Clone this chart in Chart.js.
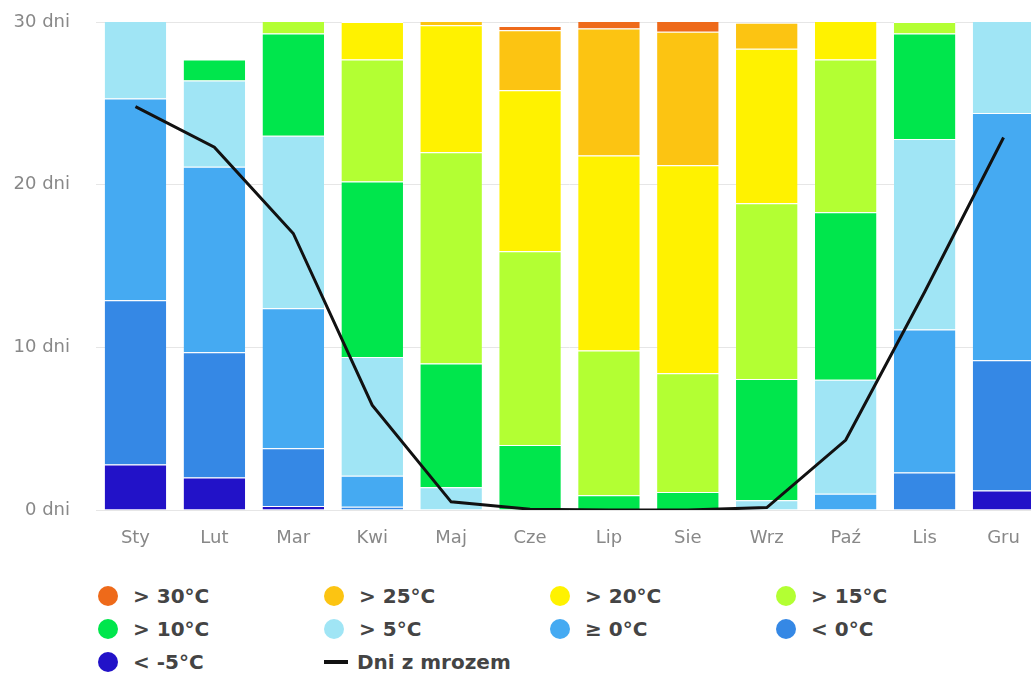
<!DOCTYPE html>
<html>
<head>
<meta charset="utf-8">
<script src="https://cdn.jsdelivr.net/npm/chart.js@4"></script>
<style>
  html, body { margin: 0; padding: 0; background: #fff; overflow: hidden; }
  #wrap { position: relative; width: 1043px; height: 560px; }
  #legend { position: absolute; left: 0; top: 582px; width: 1031px; font-family: "DejaVu Sans", sans-serif; }
  .item { position: absolute; display: flex; align-items: center; height: 28px; font-weight: bold; font-size: 20px; color: #444; white-space: nowrap; }
  .dot { width: 20px; height: 20px; border-radius: 50%; margin-right: 15px; }
  .dash { width: 24px; height: 4px; background: #111; margin-right: 9px; }
</style>
</head>
<body>
<div id="wrap"><canvas id="climateChart"></canvas></div>
<div id="legend"></div>
<script>
// data (days per month)
const months = ["Sty", "Lut", "Mar", "Kwi", "Maj", "Cze", "Lip", "Sie", "Wrz", "Paź", "Lis", "Gru"];
const yTicks = [0, 10, 20, 30];

const belowMinus5 = [2.8, 2.0, 0.25, 0, 0, 0, 0, 0, 0, 0, 0, 1.2];
const below0 = [10.1, 7.7, 3.55, 0.2, 0, 0, 0, 0, 0, 0, 2.3, 8.0];
const above0 = [12.4, 11.4, 8.6, 1.9, 0, 0, 0, 0, 0, 1.0, 8.8, 15.2];
const above5 = [5.7, 5.3, 10.6, 7.3, 1.4, 0, 0, 0, 0.6, 7.0, 11.7, 6.6];
const above10 = [0, 1.3, 6.3, 10.8, 7.6, 4.0, 0.9, 1.1, 7.45, 10.3, 6.5, 0];
const above15 = [0, 0, 1.7, 7.5, 13.0, 11.9, 8.9, 7.3, 10.8, 9.4, 0.7, 0];
const above20 = [0, 0, 0, 2.3, 7.8, 9.9, 12.0, 12.8, 9.5, 3.3, 0, 0];
const above25 = [0, 0, 0, 0, 1.2, 3.7, 7.8, 8.2, 1.6, 0, 0, 0];
const above30 = [0, 0, 0, 0, 0, 0.25, 1.4, 1.6, 0, 0, 0, 0];
const frostDays = [24.8, 22.3, 17.0, 6.45, 0.5, 0.05, 0, 0, 0.15, 4.3, 13.4, 22.9];

// stacked from the bottom up
const barSeries = [
  { label: "< -5°C", color: "#2212C8", data: belowMinus5 },
  { label: "< 0°C", color: "#3588E5", data: below0 },
  { label: "≥ 0°C", color: "#45AAF2", data: above0 },
  { label: "> 5°C", color: "#A0E5F5", data: above5 },
  { label: "> 10°C", color: "#00E64C", data: above10 },
  { label: "> 15°C", color: "#B3FF33", data: above15 },
  { label: "> 20°C", color: "#FFF200", data: above20 },
  { label: "> 25°C", color: "#FCC412", data: above25 },
  { label: "> 30°C", color: "#EE6A1A", data: above30 },
];

const datasets = barSeries.map(s => ({
  type: "bar",
  label: s.label,
  data: s.data,
  backgroundColor: s.color,
  borderColor: "#fff",
  borderWidth: { top: 1, left: 0, right: 0, bottom: 0 },
  categoryPercentage: 0.78,
  barPercentage: 1,
  order: 1,
}));

datasets.push({
  type: "line",
  label: "Dni z mrozem",
  data: frostDays,
  borderColor: "#111",
  borderWidth: 3,
  pointRadius: 0,
  tension: 0,
  stack: "frost",
  order: 0,
});

const ctx = document.getElementById("climateChart");
const chart = new Chart(ctx, {
  data: { labels: months, datasets: datasets },
  options: {
    responsive: true,
    maintainAspectRatio: false,
    animation: false,
    layout: { padding: { top: 22, left: 0, right: 0, bottom: 0 } },
    plugins: { legend: { display: false }, tooltip: { enabled: false } },
    scales: {
      x: {
        stacked: true,
        grid: { display: false },
        border: { display: false },
        ticks: { color: "#888", font: { family: "DejaVu Sans", size: 18 }, padding: 10 },
        afterFit: (axis) => { axis.height = 50; },
      },
      y: {
        stacked: true,
        min: 0,
        max: 30,
        afterBuildTicks: (axis) => { axis.ticks = yTicks.map(v => ({ value: v })); },
        grid: { color: "#e6e6e6", drawTicks: true, tickLength: 26, tickColor: "rgba(0,0,0,0)" },
        border: { display: false },
        ticks: {
          color: "#888",
          font: { family: "DejaVu Sans", size: 18 },
          padding: 0,
          callback: (v) => v + " dni",
        },
        afterFit: (axis) => { axis.width = 96; },
      },
    },
  },
});

// html legend, 4 columns
const legendItems = barSeries.slice().reverse().concat([{ label: "Dni z mrozem", line: true }]);
const legend = document.getElementById("legend");
const colX = [98, 324, 550, 776];
const rowY = [0, 33, 66];
legendItems.forEach((item, i) => {
  const el = document.createElement("div");
  el.className = "item";
  el.style.left = colX[i % 4] + "px";
  el.style.top = rowY[Math.floor(i / 4)] + "px";
  const mark = document.createElement("span");
  if (item.line) {
    mark.className = "dash";
  } else {
    mark.className = "dot";
    mark.style.background = item.color;
  }
  el.appendChild(mark);
  el.appendChild(document.createTextNode(item.label));
  legend.appendChild(el);
});
</script>
</body>
</html>
